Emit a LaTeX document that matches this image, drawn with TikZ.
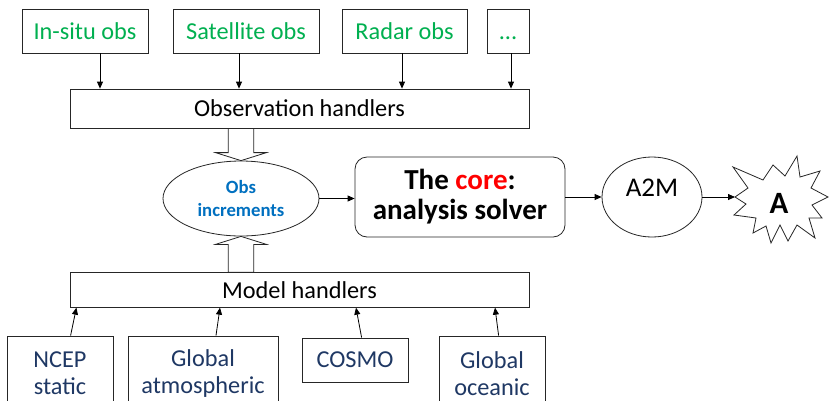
\documentclass[tikz,border=0pt]{standalone}
\usepackage{fontspec}
\setmainfont{Carlito}
\usetikzlibrary{arrows.meta,shapes.geometric,calc}
\definecolor{obsgreen}{HTML}{00B050}
\definecolor{incblue}{HTML}{0070C0}
\definecolor{modblue}{HTML}{1F3864}
\definecolor{corered}{HTML}{FF0000}
\begin{document}
\begin{tikzpicture}[x=1pt,y=-1pt,
  box/.style={draw=black!85, line width=0.8pt, rectangle, inner sep=0pt, align=center},
  lab/.style={font=\fontsize{24.3}{27}\selectfont},
  obslab/.style={box, lab, text=obsgreen, minimum height=44pt},
  modlab/.style={box, lab, text=modblue},
  arr/.style={-{Triangle[length=7pt,width=6pt]}, line width=0.8pt},
  hollow/.style={draw=black!85, line width=0.8pt, fill=white, line join=miter}]
\clip (0,0) rectangle (829,400);
\fill[white] (0,0) rectangle (829,400);

% observation sources
\node[obslab, minimum width=126pt] (insitu) at (85,31) {In-situ obs};
\node[obslab, minimum width=146pt] (sat) at (246,31) {Satellite obs};
\node[obslab, minimum width=125pt] (radar) at (404.5,31) {Radar obs};
\node[obslab, minimum width=42pt] (dots) at (508,31) {\vphantom{In-situ obs}...};

\node[box, lab, minimum width=459pt, minimum height=39pt] (obsh) at (299.5,108.5) {Observation handlers};

\draw[arr] ([xshift=15]insitu.south) -- ([xshift=15]insitu.south |- obsh.north);
\draw[arr] ([xshift=-7]sat.south) -- ([xshift=-7]sat.south |- obsh.north);
\draw[arr] ([xshift=-2.5]radar.south) -- ([xshift=-2.5]radar.south |- obsh.north);
\draw[arr] ([xshift=3]dots.south) -- ([xshift=3]dots.south |- obsh.north);

% centre row
\node[ellipse, draw=black!85, line width=0.8pt, minimum width=156pt, minimum height=75pt, inner sep=0pt,
      text=incblue, font=\bfseries\fontsize{18.7}{23}\selectfont, align=center] (obsinc) at (241,198.5) {Obs\\increments};
\node[box, rounded corners=12pt, minimum width=210pt, minimum height=80pt,
      font=\bfseries\fontsize{29}{30}\selectfont] (core) at (460,197) {The \textcolor{corered}{core}:\\analysis solver};
\node[ellipse, draw=black!85, line width=0.8pt, minimum width=100pt, minimum height=80pt, inner sep=0pt,
      font=\fontsize{27}{30}\selectfont, text depth=19pt] (a2m) at (652,197) {A2M};

\node[font=\bfseries\fontsize{31}{31}\selectfont, inner sep=0pt] (A) at (779,203) {A};
\begin{scope}[shift={(780,200)}]
  \draw[line width=0.8pt, draw=black!85] (17,-44) -- (20,-23) -- (40,-29) -- (31,-12) -- (48,-3) -- (32,5) -- (42,18) -- (29,18)
    -- (35,38) -- (17,25) -- (8,41) -- (0,25) -- (-9,43) -- (-14,26) -- (-27,33) -- (-24,18) -- (-46,15) -- (-34,4)
    -- (-45,-3) -- (-32,-12) -- (-47,-33) -- (-17,-20) -- (-7,-35) -- (5,-24) -- cycle;
  \coordinate (stip) at (-45,-3);
\end{scope}

\draw[arr] (obsinc.east) -- (obsinc.east -| core.west);
\draw[arr] (core.east) -- (a2m.west);
\draw[arr] (a2m.east) -- (stip);

% model handlers
\node[box, lab, minimum width=459pt, minimum height=34.5pt] (modh) at (299.5,290) {Model handlers};

% hollow arrows
\coordinate (a1) at ($(obsinc.north)+(-25.5,-8)$);
\coordinate (a2) at ($(obsinc.north)+(-12.7,-8)$);
\coordinate (a3) at ($(obsinc.north)+(12.7,-8)$);
\coordinate (a4) at ($(obsinc.north)+(25.5,-8)$);
\draw[hollow] (obsinc.north) -- (a1) -- (a2) -- (a2 |- obsh.south) -- (a3 |- obsh.south) -- (a3) -- (a4) -- cycle;
\coordinate (b1) at ($(obsinc.south)+(-25.5,8)$);
\coordinate (b2) at ($(obsinc.south)+(-12.7,8)$);
\coordinate (b3) at ($(obsinc.south)+(12.7,8)$);
\coordinate (b4) at ($(obsinc.south)+(25.5,8)$);
\draw[hollow] (obsinc.south) -- (b1) -- (b2) -- (b2 |- modh.north) -- (b3 |- modh.north) -- (b3) -- (b4) -- cycle;

% model sources
\node[modlab, anchor=north, minimum width=106pt, minimum height=75pt] (ncep) at (60,335.5) {NCEP\\static};
\node[modlab, anchor=north, minimum width=150pt, minimum height=75pt] (gatm) at (203,335.5) {Global\\atmospheric};
\node[modlab, anchor=north, minimum width=106pt, minimum height=44pt] (cosmo) at (355,337.5) {COSMO};
\node[modlab, anchor=north, minimum width=106pt, minimum height=75pt] (gocean) at (492,335.5) {Global\\oceanic};

\draw[arr] ([xshift=10.6]ncep.north) -- ([xshift=16.4]ncep.north |- modh.south);
\draw[arr] ([xshift=13]gatm.north) -- ([xshift=17]gatm.north |- modh.south);
\draw[arr] ([xshift=6.6]cosmo.north) -- ([xshift=1]cosmo.north |- modh.south);
\draw[arr] ([xshift=6.6]gocean.north) -- ([xshift=3]gocean.north |- modh.south);
\end{tikzpicture}
\end{document}
